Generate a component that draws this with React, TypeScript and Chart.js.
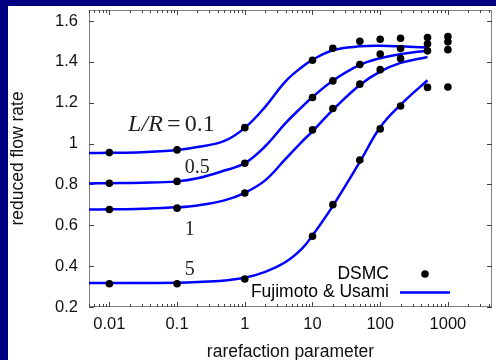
import React, { useEffect, useRef } from 'react';
import { Chart, registerables } from 'chart.js';

Chart.register(...registerables);

// ---- data ----
const curveX = [0.005, 0.01, 0.03, 0.1, 0.2, 0.5, 1, 2, 4, 7, 10, 20, 50, 100, 200, 500];
const curveLR01 = [0.954, 0.955, 0.958, 0.969, 0.983, 1.013, 1.077, 1.18, 1.305, 1.375, 1.41, 1.457, 1.476, 1.479, 1.476, 1.47];
const curveLR05 = [0.805, 0.806, 0.808, 0.815, 0.83, 0.868, 0.904, 0.987, 1.1, 1.18, 1.228, 1.308, 1.385, 1.418, 1.438, 1.455];
const curveLR1 = [0.677, 0.678, 0.681, 0.688, 0.697, 0.722, 0.759, 0.82, 0.925, 1.01, 1.06, 1.165, 1.287, 1.352, 1.395, 1.424];
const curveLR5 = [0.318, 0.318, 0.318, 0.319, 0.322, 0.33, 0.343, 0.372, 0.42, 0.486, 0.55, 0.695, 0.91, 1.08, 1.19, 1.31];

const dsmcX = [0.01, 0.1, 1, 10, 20, 50, 100, 200, 500, 1000];
const dsmcLR01 = [0.956, 0.969, 1.078, 1.408, 1.467, 1.501, 1.511, 1.516, 1.519, 1.524];
const dsmcLR05 = [0.806, 0.815, 0.904, 1.226, 1.307, 1.387, 1.438, 1.465, 1.489, 1.498];
const dsmcLR1 = [0.677, 0.684, 0.758, 1.067, 1.172, 1.291, 1.362, 1.416, 1.454, 1.46];
const dsmcLR5 = [0.314, 0.314, 0.337, 0.546, 0.701, 0.92, 1.072, 1.184, 1.275, 1.277];

const xTicks = [0.01, 0.1, 1, 10, 100, 1000];
const xTickLabels = ['0.01', '0.1', '1', '10', '100', '1000'];
const yTicks = [0.2, 0.4, 0.6, 0.8, 1.0, 1.2, 1.4, 1.6];
const yTickLabels = ['0.2', '0.4', '0.6', '0.8', '1', '1.2', '1.4', '1.6'];

const seriesNames = ['0.1', '0.5', '1', '5'];
const legendLabels = ['DSMC', 'Fujimoto & Usami'];
const xTitle = 'rarefaction parameter';
const yTitle = 'reduced flow rate';

const BLUE = '#0000ff';
const SANS = '"Liberation Sans", Arial, sans-serif';
const SERIF = '"Liberation Serif", "Times New Roman", serif';

const toPts = (xs: number[], ys: number[]) => xs.map((x, i) => ({ x, y: ys[i] }));

const decorPlugin = {
  id: 'decor',
  beforeDatasetsDraw(chart: any) {
    const { ctx, chartArea: a, scales } = chart;
    const xs = scales.x;
    const ys = scales.y;
    ctx.save();
    ctx.strokeStyle = '#808080';
    ctx.lineWidth = 1;
    ctx.strokeRect(a.left + 0.5, a.top + 0.5, a.right - a.left - 1, a.bottom - a.top - 1);
    ctx.strokeStyle = '#444';
    ctx.beginPath();
    for (let e = -3; e <= 4; e++) {
      for (let k = 1; k <= 9; k++) {
        const v = k * Math.pow(10, e);
        if (v < xs.min || v > xs.max) continue;
        const len = k === 1 ? 5 : 3;
        const px = Math.round(xs.getPixelForValue(v)) + 0.5;
        ctx.moveTo(px, a.bottom);
        ctx.lineTo(px, a.bottom - len);
        ctx.moveTo(px, a.top);
        ctx.lineTo(px, a.top + len);
      }
    }
    for (const v of yTicks) {
      const py = Math.round(ys.getPixelForValue(v)) + 0.5;
      ctx.moveTo(a.left, py);
      ctx.lineTo(a.left + 5, py);
      ctx.moveTo(a.right, py);
      ctx.lineTo(a.right - 5, py);
    }
    ctx.stroke();
    ctx.restore();
  },
  afterDraw(chart: any) {
    const { ctx, chartArea: a, scales } = chart;
    const xs = scales.x;
    const ys = scales.y;
    ctx.save();
    // legend
    ctx.fillStyle = '#000';
    ctx.font = `17.5px ${SANS}`;
    ctx.textAlign = 'right';
    ctx.textBaseline = 'middle';
    const tx = a.right - 103;
    const y1 = a.bottom - 33;
    const y2 = a.bottom - 14.5;
    ctx.fillText(legendLabels[0], tx, y1);
    ctx.fillText(legendLabels[1], tx, y2);
    ctx.beginPath();
    ctx.arc(tx + 36, y1, 3.8, 0, Math.PI * 2);
    ctx.fill();
    ctx.strokeStyle = BLUE;
    ctx.lineWidth = 2.5;
    ctx.beginPath();
    ctx.moveTo(tx + 11, y2);
    ctx.lineTo(tx + 61, y2);
    ctx.stroke();

    // curve labels
    const anchorX = xs.getPixelForValue(0.13);
    const labelY = [1.092, 0.884, 0.58, 0.38];
    ctx.textAlign = 'left';
    ctx.fillStyle = '#222';
    seriesNames.forEach((s, i) => {
      ctx.font = `${i === 0 ? 24 : 20}px ${SERIF}`;
      ctx.fillText(s, anchorX, ys.getPixelForValue(labelY[i]));
    });
    const py = ys.getPixelForValue(labelY[0]);
    ctx.font = `24px ${SERIF}`;
    ctx.textAlign = 'center';
    ctx.fillText('=', anchorX - 11, py);
    ctx.textAlign = 'right';
    ctx.font = `italic 24px ${SERIF}`;
    ctx.fillText('L/R', anchorX - 22, py);
    ctx.restore();
  },
};

export default function App() {
  const ref = useRef<HTMLCanvasElement | null>(null);
  useEffect(() => {
    if (!ref.current) return;
    const lineDs = [curveLR01, curveLR05, curveLR1, curveLR5].map((ys, i) => ({
      label: i === 0 ? legendLabels[1] : legendLabels[1] + ' ' + seriesNames[i],
      data: toPts(curveX, ys),
      showLine: true,
      borderColor: BLUE,
      backgroundColor: BLUE,
      borderWidth: 2.5,
      pointRadius: 0,
      tension: 0.4,
      order: 2,
    }));
    const dsmcPts = [dsmcLR01, dsmcLR05, dsmcLR1, dsmcLR5].flatMap((ys) => toPts(dsmcX, ys));
    const chart = new Chart(ref.current, {
      type: 'scatter',
      data: {
        datasets: [
          {
            label: legendLabels[0],
            data: dsmcPts,
            showLine: false,
            pointRadius: 3.8,
            pointBackgroundColor: '#000',
            pointBorderColor: '#000',
            pointBorderWidth: 0,
            order: 1,
          } as any,
          ...lineDs,
        ],
      },
      options: {
        animation: false,
        responsive: true,
        maintainAspectRatio: false,
        layout: { padding: { top: 3, right: 1, left: 0, bottom: 0 } },
        plugins: { legend: { display: false }, tooltip: { enabled: false } },
        scales: {
          x: {
            type: 'logarithmic',
            min: 0.005,
            max: 4480,
            grid: { display: false, drawTicks: false },
            border: { display: false },
            afterBuildTicks: (s: any) => {
              s.ticks = xTicks.map((v) => ({ value: v }));
            },
            afterFit: (s: any) => {
              s.height = 53;
              s.paddingLeft = 0;
              s.paddingRight = 0;
            },
            ticks: {
              autoSkip: false,
              maxRotation: 0,
              padding: 8,
              color: '#111',
              font: { family: SANS, size: 16.5 },
              callback: (_v: any, i: number) => xTickLabels[i],
            },
            title: {
              display: true,
              text: xTitle,
              color: '#111',
              font: { family: SANS, size: 17.5 },
              padding: { top: 0, bottom: -3 },
            },
          },
          y: {
            type: 'linear',
            min: 0.2,
            max: 1.654,
            grid: { display: false, drawTicks: false },
            border: { display: false },
            afterBuildTicks: (s: any) => {
              s.ticks = yTicks.map((v) => ({ value: v }));
            },
            afterFit: (s: any) => {
              s.width = 81;
              s.paddingTop = 0;
              s.paddingBottom = 0;
            },
            ticks: {
              autoSkip: false,
              padding: 11,
              color: '#111',
              font: { family: SANS, size: 16.5 },
              callback: (_v: any, i: number) => yTickLabels[i],
            },
            title: {
              display: true,
              text: yTitle,
              color: '#111',
              font: { family: SANS, size: 17.5 },
              padding: { top: 0, bottom: 0 },
            },
          },
        },
      } as any,
      plugins: [decorPlugin],
    });
    return () => chart.destroy();
  }, []);

  return (
    <>
      <div style={{ position: 'fixed', left: 0, top: 0, width: 496, height: 360, background: '#000080' }} />
      <div style={{ position: 'fixed', left: 8, top: 6, width: 488, height: 354, background: '#fff' }}>
        <canvas ref={ref} />
      </div>
    </>
  );
}
